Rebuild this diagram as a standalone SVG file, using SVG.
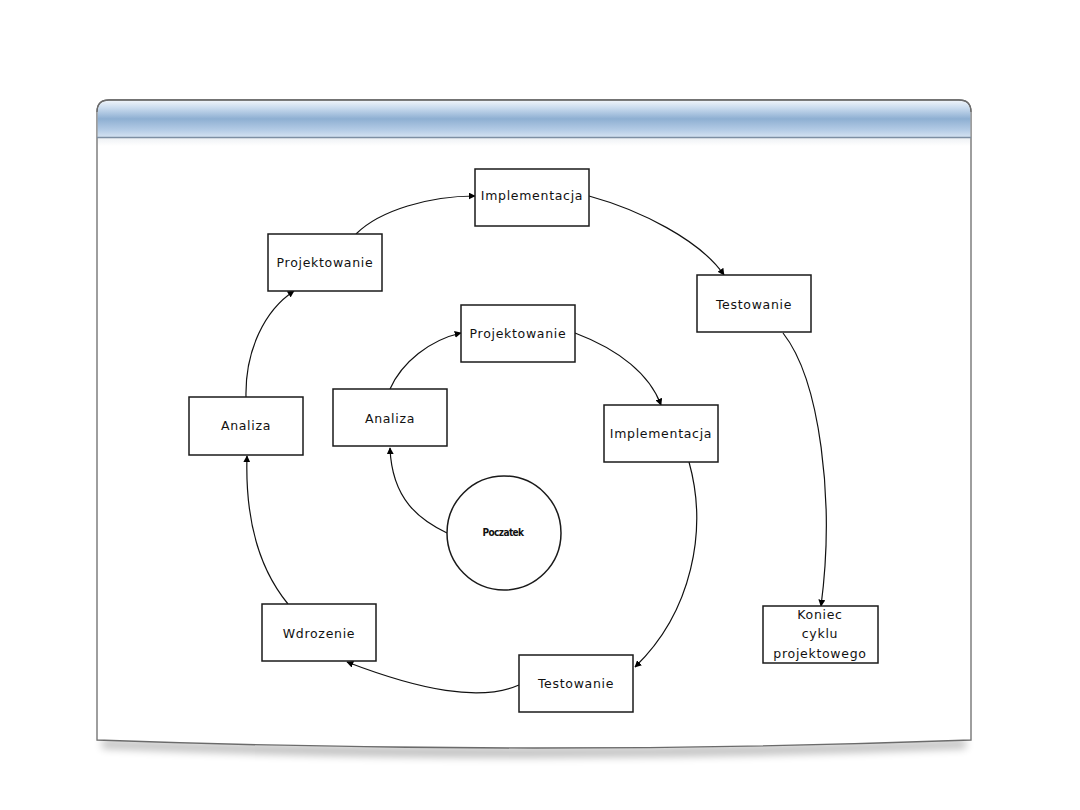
<svg xmlns="http://www.w3.org/2000/svg" width="1080" height="810" viewBox="0 0 1080 810">
<defs>
<linearGradient id="hdr" x1="0" y1="0" x2="0" y2="1">
<stop offset="0" stop-color="#eef4fa"/>
<stop offset="0.2" stop-color="#c9dbee"/>
<stop offset="0.5" stop-color="#8eafd2"/>
<stop offset="0.8" stop-color="#b3cbe5"/>
<stop offset="1" stop-color="#d4e2f1"/>
</linearGradient>
<linearGradient id="band" x1="0" y1="0" x2="0" y2="1">
<stop offset="0" stop-color="#eef1f4"/>
<stop offset="1" stop-color="#ffffff"/>
</linearGradient>
<filter id="sh" x="-5%" y="-50%" width="110%" height="200%">
<feGaussianBlur stdDeviation="4"/>
</filter>
<marker id="arr" viewBox="0 0 10 10" refX="9" refY="5" markerWidth="7" markerHeight="7" markerUnits="userSpaceOnUse" orient="auto">
<path d="M0,0 L10,5 L0,10 z" fill="#000"/>
</marker>
</defs>
<style>
.box{fill:#fff;stroke:#1a1a1a;stroke-width:1.5}
.lbl{font-family:"DejaVu Sans",sans-serif;font-size:12.5px;fill:#111;text-anchor:middle;letter-spacing:0.7px}
.con{fill:none;stroke:#111;stroke-width:1.2;marker-end:url(#arr)}
</style>
<rect width="1080" height="810" fill="#fff"/>
<g id="frame">
<path d="M102,740 Q534,756 966,740 L966,748 Q534,766 102,748 z" fill="#000" opacity="0.28" filter="url(#sh)"/>
<path d="M97,112 Q97,100 109,100 L959,100 Q971,100 971,112 L971,740 Q534,756 97,740 z" fill="#fff" stroke="#6b6b6b" stroke-width="1.3"/>
<path d="M97.7,137 L97.7,112 Q97.7,100.7 109,100.7 L959,100.7 Q970.3,100.7 970.3,112 L970.3,137 z" fill="url(#hdr)"/>
<rect x="98" y="138" width="872" height="8" fill="url(#band)"/>
<line x1="97" y1="137.5" x2="971" y2="137.5" stroke="#7d8fa3" stroke-width="1.3"/>
<path d="M97,112 Q97,100 109,100 L959,100 Q971,100 971,112" fill="none" stroke="#6b6b6b" stroke-width="1.3"/>
</g>
<g id="connectors">
<path class="con" d="M447,533 C420,520 392,500 390,448"/>
<path class="con" d="M390,389 C402,362 430,340 461,333"/>
<path class="con" d="M575,333 C620,350 650,375 661,405"/>
<path class="con" d="M689,462 C708,530 692,612 635,667"/>
<path class="con" d="M519,685 C480,702 420,690 347,662"/>
<path class="con" d="M288,604 C260,570 245,520 247,456"/>
<path class="con" d="M246,397 C245,350 265,310 294,291"/>
<path class="con" d="M356,234 C380,210 430,196 475,196"/>
<path class="con" d="M589,196 C640,210 700,240 724,275"/>
<path class="con" d="M783,333 C820,380 835,500 821,606"/>
</g>
<g id="n-impl-outer"><rect class="box" x="475" y="169" width="114" height="57"/><text class="lbl" x="532" y="200">Implementacja</text></g>
<g id="n-proj-outer"><rect class="box" x="268" y="234" width="114" height="57"/><text class="lbl" x="325" y="267">Projektowanie</text></g>
<g id="n-test-outer"><rect class="box" x="697" y="275" width="114" height="57"/><text class="lbl" x="754" y="309">Testowanie</text></g>
<g id="n-anal-outer"><rect class="box" x="189" y="397" width="114" height="58"/><text class="lbl" x="246" y="430">Analiza</text></g>
<g id="n-proj-inner"><rect class="box" x="461" y="305" width="114" height="57"/><text class="lbl" x="518" y="338">Projektowanie</text></g>
<g id="n-anal-inner"><rect class="box" x="333" y="389" width="114" height="57"/><text class="lbl" x="390" y="423">Analiza</text></g>
<g id="n-impl-inner"><rect class="box" x="604" y="405" width="114" height="57"/><text class="lbl" x="661" y="438">Implementacja</text></g>
<g id="n-start"><circle cx="504" cy="533" r="57" fill="#fff" stroke="#1a1a1a" stroke-width="1.5"/><text x="503" y="536" font-family="DejaVu Sans Condensed, DejaVu Sans, sans-serif" font-size="10" font-weight="bold" text-anchor="middle" letter-spacing="-0.6" fill="#111">Poczatek</text></g>
<g id="n-wdroz"><rect class="box" x="262" y="604" width="114" height="57"/><text class="lbl" x="319" y="638">Wdrozenie</text></g>
<g id="n-test-inner"><rect class="box" x="519" y="655" width="114" height="57"/><text class="lbl" x="576" y="688">Testowanie</text></g>
<g id="n-end"><rect class="box" x="763" y="606" width="115" height="57"/><text class="lbl" x="820" y="619">Koniec</text><text class="lbl" x="820" y="638">cyklu</text><text class="lbl" x="820" y="658">projektowego</text></g>
</svg>
